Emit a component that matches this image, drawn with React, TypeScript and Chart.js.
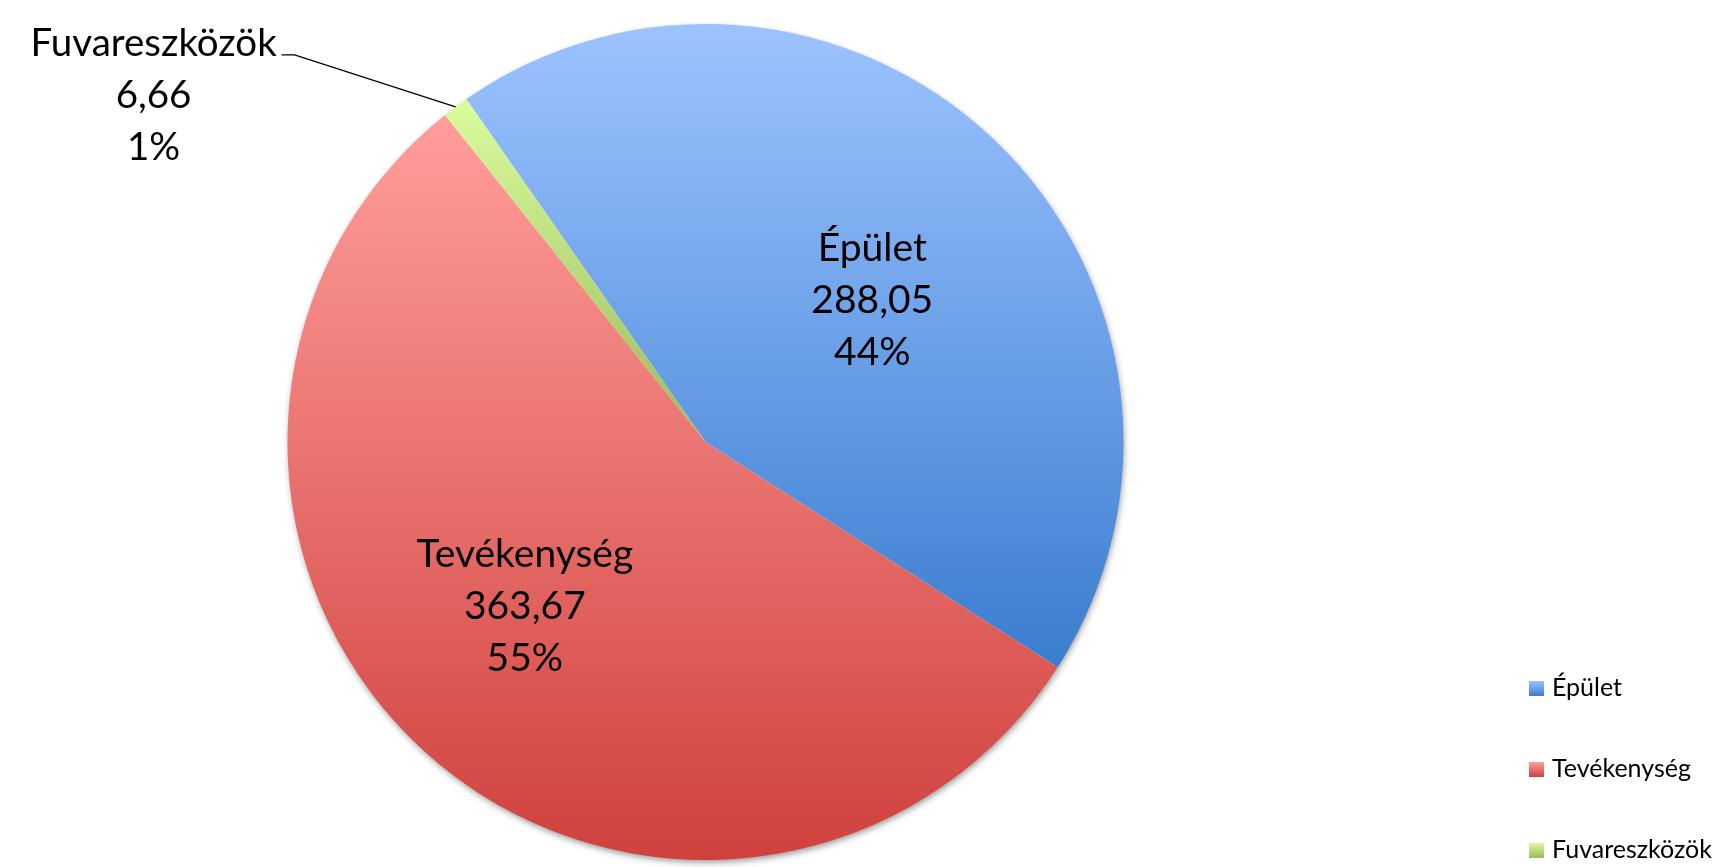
import React, { useEffect, useRef } from "react";
import { Chart, registerables } from "chart.js";

Chart.register(...registerables);

// ---- data ----
const categories = ["Épület", "Tevékenység", "Fuvareszközök"];
const values = [288.05, 363.67, 6.66];
const gradientTop = ["#9DC3FF", "#FF9E9B", "#DAFC9F"];
const gradientBottom = ["#3A7DCF", "#D0413D", "#9BBB59"];

const FONT = 'Lato, "Open Sans", sans-serif';
const total = values.reduce((a, b) => a + b, 0);
const fmtValue = (v: number) => v.toFixed(2).replace(".", ",");
const fmtPct = (v: number) => Math.round((v / total) * 100) + "%";

function arcYRange(y: number, r: number, s: number, e: number) {
  const ys = [y, y + r * Math.sin(s), y + r * Math.sin(e)];
  for (let k = -4; k <= 4; k++) {
    const a = Math.PI / 2 + k * Math.PI;
    if (a > s && a < e) ys.push(y + r * Math.sin(a));
  }
  return [Math.min(...ys), Math.max(...ys)];
}

const gradientPlugin = {
  id: "sliceGradient",
  beforeDatasetsDraw(chart: any) {
    const ctx = chart.ctx as CanvasRenderingContext2D;
    const meta = chart.getDatasetMeta(0);
    if (!meta.data.length) return;
    const a0: any = meta.data[0].getProps(["x", "y", "outerRadius"], true);
    ctx.save();
    ctx.shadowColor = "rgba(0,0,0,0.45)";
    ctx.shadowBlur = 7;
    ctx.shadowOffsetX = 1;
    ctx.shadowOffsetY = 3;
    ctx.beginPath();
    ctx.arc(a0.x, a0.y, a0.outerRadius - 1, 0, Math.PI * 2);
    ctx.fillStyle = "#ffffff";
    ctx.fill();
    ctx.restore();
    meta.data.forEach((arc: any, i: number) => {
      const p: any = arc.getProps(["x", "y", "startAngle", "endAngle", "outerRadius"], true);
      const [y0, y1] = arcYRange(p.y, p.outerRadius, p.startAngle, p.endAngle);
      const g = ctx.createLinearGradient(0, y0, 0, y1);
      g.addColorStop(0, gradientTop[i]);
      g.addColorStop(1, gradientBottom[i]);
      arc.options = Object.assign({}, arc.options, { backgroundColor: g });
    });
  },
};

const labelPlugin = {
  id: "sliceLabels",
  afterDatasetsDraw(chart: any) {
    const ctx = chart.ctx as CanvasRenderingContext2D;
    const meta = chart.getDatasetMeta(0);
    const lh = 52;
    ctx.save();
    ctx.font = `39px ${FONT}`;
    ctx.fillStyle = "#000";
    ctx.textAlign = "center";
    ctx.textBaseline = "middle";
    meta.data.forEach((arc: any, i: number) => {
      const p: any = arc.getProps(["x", "y", "startAngle", "endAngle", "outerRadius"], true);
      const mid = (p.startAngle + p.endAngle) / 2;
      const frac = values[i] / total;
      const lines = [categories[i], fmtValue(values[i]), fmtPct(values[i])];
      if (frac > 0.05) {
        const ang = mid + 0.1;
        const r = p.outerRadius * (0.524 + (frac - 0.4375) * 0.52);
        const cx = p.x + r * Math.cos(ang);
        const cy = p.y + r * Math.sin(ang);
        lines.forEach((t, k) => ctx.fillText(t, cx, cy + (k - 1) * lh));
      } else {
        const ex = p.x + p.outerRadius * Math.cos(mid);
        const ey = p.y + p.outerRadius * Math.sin(mid);
        const elbowX = ex - 161;
        const elbowY = ey - 52;
        ctx.save();
        ctx.strokeStyle = "#000";
        ctx.lineWidth = 1.3;
        ctx.beginPath();
        ctx.moveTo(elbowX - 13, elbowY);
        ctx.lineTo(elbowX, elbowY);
        ctx.lineTo(ex, ey);
        ctx.stroke();
        ctx.restore();
        ctx.font = `38.5px ${FONT}`;
        const cx = elbowX - 141;
        const cy = elbowY - 11;
        lines.forEach((t, k) => ctx.fillText(t, cx, cy + k * lh));
      }
    });
    ctx.restore();
  },
};

const legendPlugin = {
  id: "sideLegend",
  afterDraw(chart: any) {
    const ctx = chart.ctx as CanvasRenderingContext2D;
    const n = categories.length;
    const lx = chart.width - 186;
    const lastBase = chart.height - 9;
    const step = 81;
    ctx.save();
    ctx.font = `25px ${FONT}`;
    ctx.textAlign = "left";
    ctx.textBaseline = "alphabetic";
    categories.forEach((c, i) => {
      const base = lastBase - (n - 1 - i) * step;
      const g = ctx.createLinearGradient(0, base - 15, 0, base);
      g.addColorStop(0, gradientTop[i]);
      g.addColorStop(1, gradientBottom[i]);
      ctx.fillStyle = g;
      ctx.fillRect(lx, base - 15, 15, 15);
      ctx.fillStyle = "#000";
      ctx.fillText(c, lx + 23, base);
    });
    ctx.restore();
  },
};

export default function App() {
  const ref = useRef<HTMLCanvasElement | null>(null);
  useEffect(() => {
    if (!ref.current) return;
    const chart = new Chart(ref.current, {
      type: "pie",
      data: {
        labels: categories,
        datasets: [
          {
            data: values,
            backgroundColor: (c: any) => gradientBottom[c.dataIndex % gradientBottom.length],
            borderWidth: 0,
          },
        ],
      },
      options: {
        responsive: false,
        animation: false,
        devicePixelRatio: 1,
        rotation: -34.9,
        layout: { padding: { top: 24, bottom: 7, left: 287, right: 591 } },
        plugins: {
          legend: { display: false },
          tooltip: { enabled: false },
        },
      },
      plugins: [gradientPlugin, labelPlugin, legendPlugin],
    } as any);
    return () => chart.destroy();
  }, []);
  return (
    <div style={{ position: "fixed", left: 0, top: 0, width: 1715, height: 867, background: "#fff" }}>
      <canvas ref={ref} width={1715} height={867} style={{ display: "block", width: 1715, height: 867 }} />
    </div>
  );
}
